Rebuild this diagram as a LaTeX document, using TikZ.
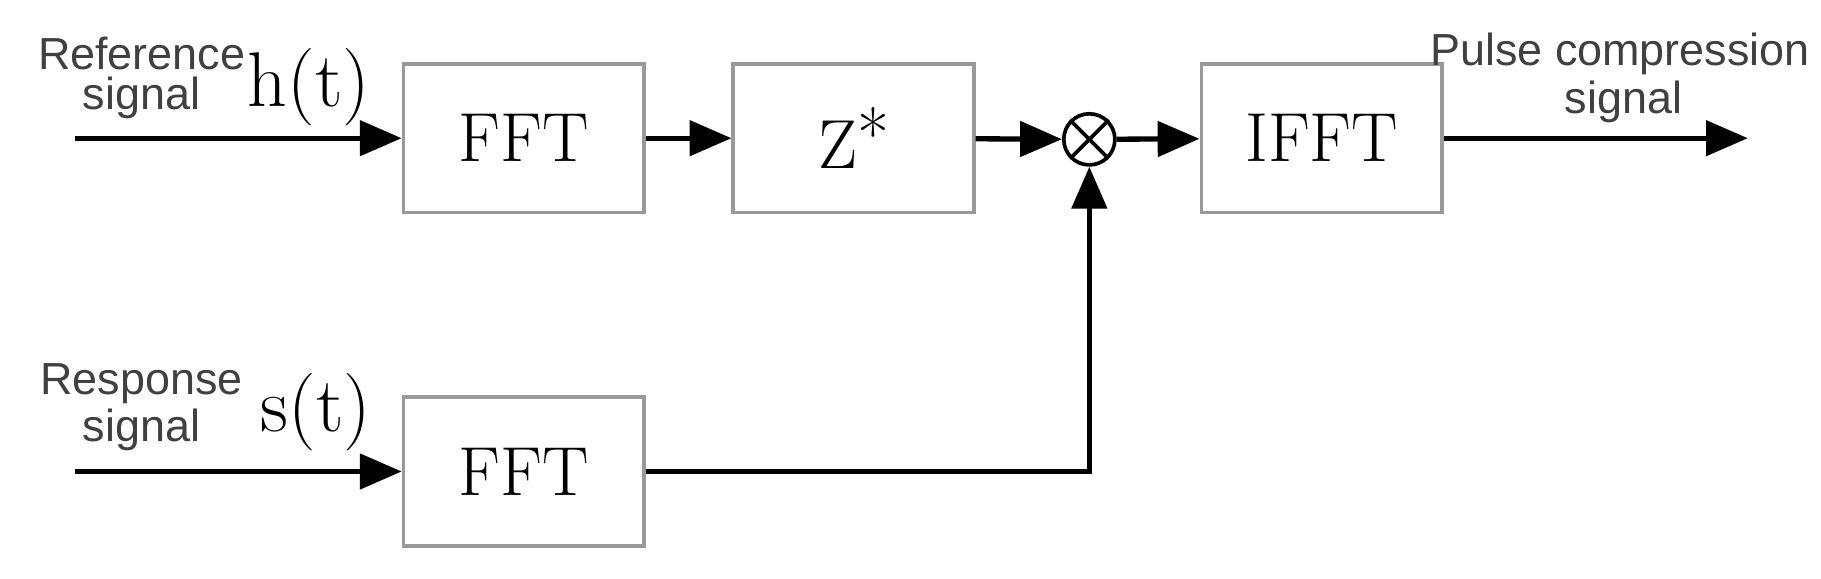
\documentclass[tikz,border=0pt]{standalone}
\usepackage{fontspec}
\setsansfont{Liberation Sans}
\usetikzlibrary{arrows.meta}
\begin{document}
\begin{tikzpicture}[x=0.01cm,y=-0.01cm,
  blk/.style={draw=gray!80,line width=0.9pt,minimum width=2.07cm,minimum height=1.28cm,font=\fontsize{17}{20}\selectfont},
  arr/.style={line width=1.3pt,-{Triangle[length=0.36cm,width=0.3cm]}},
  lbl/.style={font=\sffamily\fontsize{11}{12}\selectfont\color{black!75}},
  sig/.style={font=\fontsize{19}{22}\selectfont}]
\useasboundingbox (0,0) rectangle (1568,498);
\node[blk] (f1) at (451,119) {FFT};
\node[blk] (z) at (735,119) {Z\raisebox{0.3ex}{*}};
\node[draw,circle,line width=0.9pt,minimum size=0.44cm,inner sep=0] (m) at (938,120) {};
\draw[line width=0.9pt] (m.north west)--(m.south east) (m.north east)--(m.south west);
\node[blk] (i) at (1138,119) {IFFT};
\node[blk] (f2) at (451,406) {FFT};
\coordinate (in1) at (65,119);
\coordinate (in2) at (65,406);
\coordinate (out) at (1505,119);
\coordinate (c) at (938,406);
\draw[arr] (in1)--(f1);
\draw[arr] (f1)--(z);
\draw[arr] (z)--(m);
\draw[arr] (m)--(i);
\draw[arr] (i)--(out);
\draw[arr] (in2)--(f2);
\draw[arr] (f2.east)--(c)--(m);
\node[lbl] (r1) at (122,46) {Reference};
\node[lbl] (r2) at (122,84) {signal};
\node[sig] (h) at (266,75) {h(t)};
\node[lbl] (s1) at (122,330) {Response};
\node[lbl] (s2) at (122,370) {signal};
\node[sig] (s) at (272,355) {s(t)};
\node[lbl] (p1) at (1395,46) {Pulse compression};
\node[lbl] (p2) at (1398,88) {signal};
\end{tikzpicture}
\end{document}
